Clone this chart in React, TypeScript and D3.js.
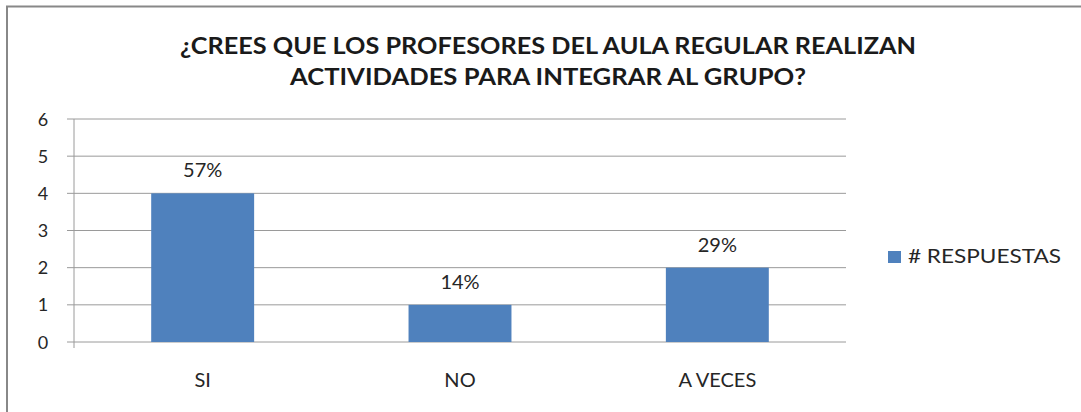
import React from "react";
import * as d3 from "d3";

const categories = ["SI", "NO", "A VECES"];
const values = [4, 1, 2];
const percentLabels = ["57%", "14%", "29%"];
const yTicks = [0, 1, 2, 3, 4, 5, 6];
const titleLines = [
  "¿CREES QUE LOS PROFESORES DEL AULA REGULAR REALIZAN",
  "ACTIVIDADES PARA INTEGRAR AL GRUPO?",
];
const seriesName = "# RESPUESTAS";

export default function App() {
  const W = 1081, H = 412;
  const left = 74, right = 846, top = 119, bottom = 342;
  const x = d3.scaleBand<string>().domain(categories).range([left, right]).paddingInner(0.6).paddingOuter(0.3);
  const y = d3.scaleLinear().domain([0, 6]).range([bottom, top]);
  const font = "Lato, 'Liberation Sans', Arial, sans-serif";
  const grid = "#9a9a9a";
  const txt = "#262626";
  return (
    <svg width={W} height={H} style={{ position: "absolute", left: 0, top: 0, background: "#fff" }} fontFamily={font}>
      <rect x={0} y={0} width={W} height={H} fill="#fff" />
      <path d={`M7,${H} V6.5 H${W}`} fill="none" stroke="#888" strokeWidth={2} />
      {titleLines.map((t, i) => (
        <text key={i} x={548} y={54 + i * 31} textAnchor="middle" fontSize={22} fontWeight="bold" fill="#1a1a1a"
          textLength={i === 0 ? 736 : 516} lengthAdjust="spacingAndGlyphs">{t}</text>
      ))}
      {yTicks.map((t) => (
        <g key={t}>
          <line x1={67} x2={right} y1={y(t)} y2={y(t)} stroke={grid} strokeWidth={1} />
          <text x={43} y={y(t) + 6.5} textAnchor="middle" fontSize={18} fill={txt}>{t}</text>
        </g>
      ))}
      <line x1={left} x2={left} y1={top} y2={bottom + 6} stroke={grid} strokeWidth={1} />
      {categories.map((c, i) => {
        const bx = x(c)!;
        return (
          <g key={c}>
            <rect x={bx} y={y(values[i])} width={x.bandwidth()} height={bottom - y(values[i])} fill="#4F81BD" />
            <text x={bx + x.bandwidth() / 2} y={y(values[i]) - 16} textAnchor="middle" fontSize={20} fill={txt}>{percentLabels[i]}</text>
            <text x={bx + x.bandwidth() / 2} y={387} textAnchor="middle" fontSize={20} fill={txt}>{c}</text>
          </g>
        );
      })}
      <rect x={888} y={251} width={13} height={12} fill="#4F81BD" />
      <text x={908} y={263} fontSize={19} fill={txt} textLength={153} lengthAdjust="spacingAndGlyphs">{seriesName}</text>
    </svg>
  );
}
